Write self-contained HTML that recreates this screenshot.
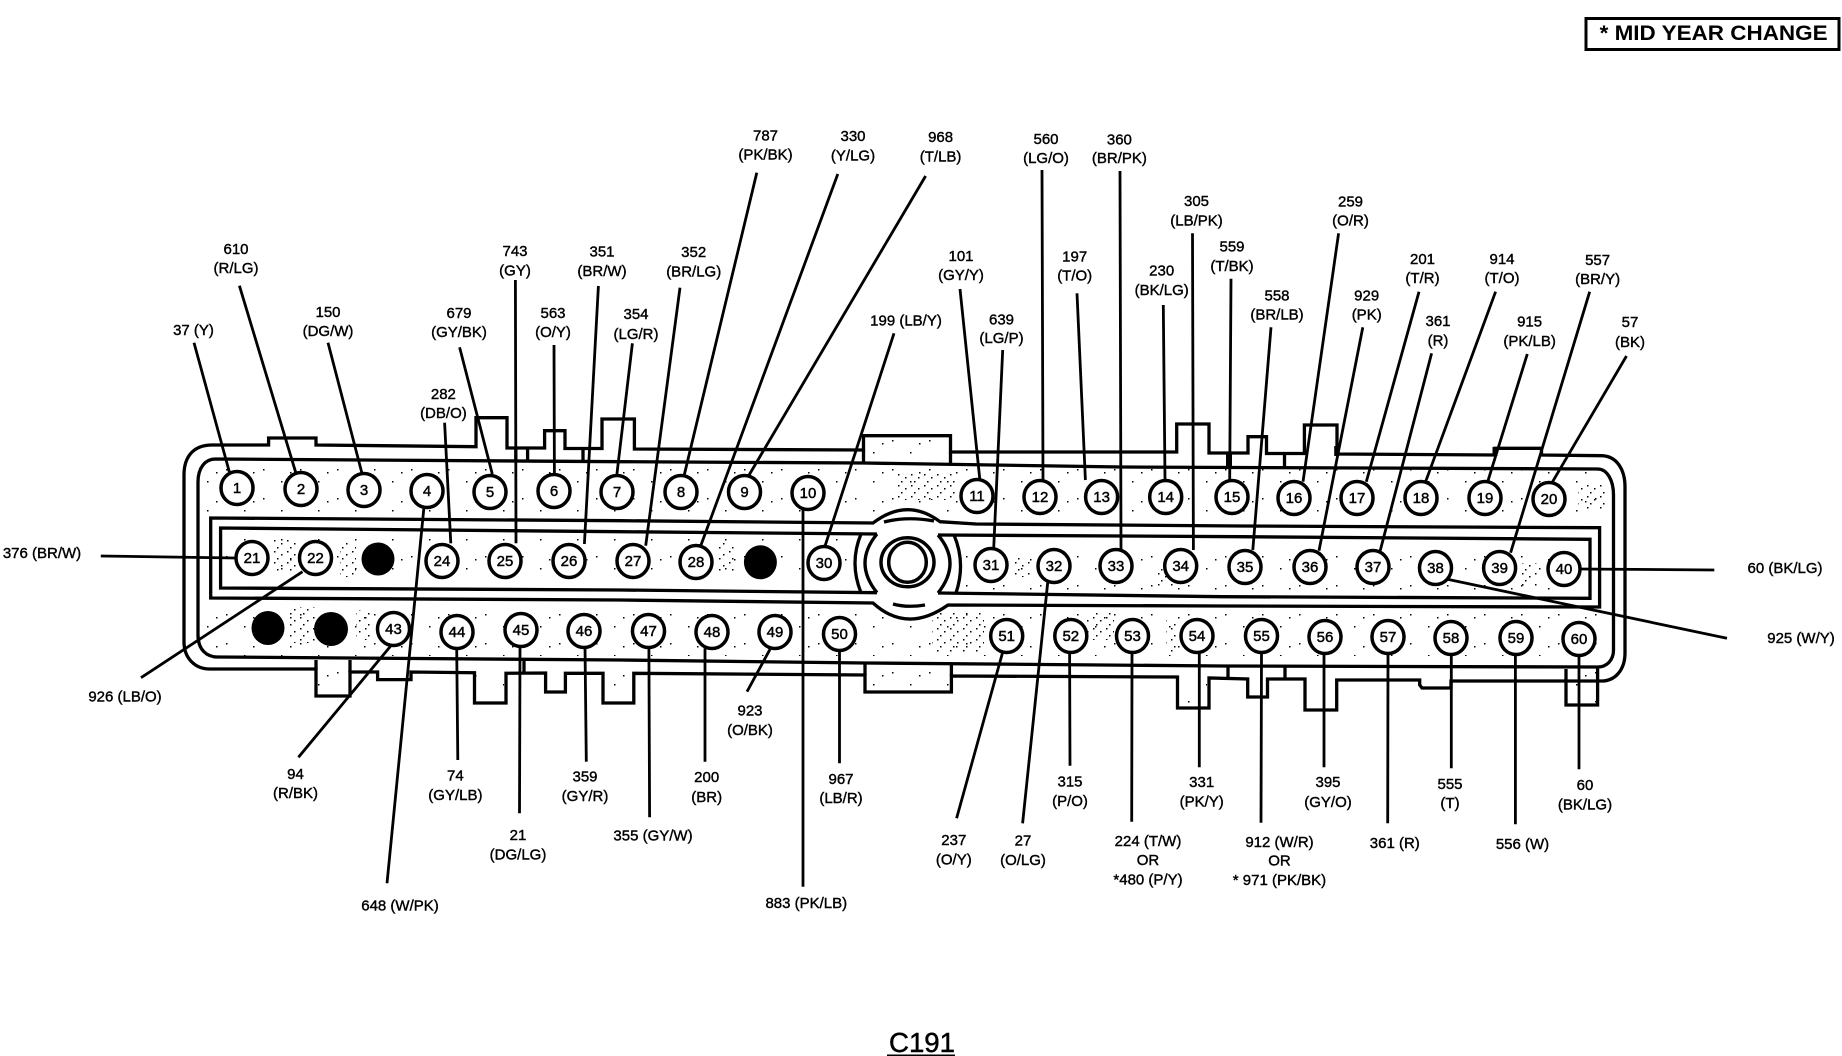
<!DOCTYPE html>
<html><head><meta charset="utf-8"><title>C191</title>
<style>
html,body{margin:0;padding:0;background:#fff;width:1842px;height:1056px;overflow:hidden}
svg{display:block}
text{font-family:"Liberation Sans",Arial,sans-serif;fill:#000}
.l text{font-size:15px;text-anchor:middle;stroke:#000;stroke-width:.4}
.p text{font-size:15px;text-anchor:middle;stroke:#000;stroke-width:.45}
.p ellipse{fill:#fff;stroke:#000;stroke-width:3.5}
.b{fill:none;stroke:#000;stroke-width:3.3}
.w{fill:none;stroke:#000;stroke-width:2.8}
</style></head><body>
<svg width="1842" height="1056" viewBox="0 0 1842 1056" xmlns="http://www.w3.org/2000/svg">
<defs>
<pattern id="sp" width="37" height="29" patternUnits="userSpaceOnUse"><rect x="4" y="5" width="1.5" height="1.5"/><rect x="22" y="17" width="1.5" height="1.5"/><rect x="31" y="8" width="1.5" height="1.5"/></pattern>
<pattern id="dn" width="13" height="11" patternUnits="userSpaceOnUse"><rect x="1" y="1" width="1.5" height="1.5"/><rect x="8" y="4" width="1.5" height="1.5"/><rect x="4" y="8" width="1.5" height="1.5"/></pattern>
</defs>
<!-- stipple -->
<rect x="205" y="465" width="1400" height="50" fill="url(#sp)"/>
<rect x="225" y="535" width="640" height="50" fill="url(#sp)"/>
<rect x="965" y="542" width="620" height="52" fill="url(#sp)"/>
<rect x="205" y="606" width="1400" height="50" fill="url(#sp)"/>
<g fill="url(#dn)">
<rect x="273" y="538" width="23" height="35"/><rect x="340" y="543" width="16" height="34"/><rect x="289" y="607" width="27" height="36"/><rect x="356" y="610" width="16" height="30"/>
<rect x="719" y="543" width="16" height="30"/><rect x="932" y="613" width="52" height="40"/><rect x="897" y="473" width="59" height="27"/><rect x="1015" y="557" width="16" height="20"/>
<rect x="1087" y="613" width="27" height="27"/><rect x="1154" y="567" width="20" height="20"/><rect x="1166" y="620" width="11" height="33"/><rect x="1522" y="563" width="16" height="24"/><rect x="1578" y="483" width="27" height="27"/>
</g>
<g fill="url(#sp)">
<rect x="318" y="672" width="30" height="22"/><rect x="867" y="665" width="82" height="25"/><rect x="867" y="438" width="80" height="23"/><rect x="1180" y="680" width="27" height="26"/><rect x="476" y="675" width="28" height="26"/><rect x="605" y="675" width="27" height="26"/><rect x="1568" y="671" width="28" height="32"/>
</g>
<!-- body -->
<path class="b" d="M184 475C184 455 195 445 212 445L268.6 445L268.6 438L316 438L316 445L476 446.7L476 417.7L507 417.7L507 448L544.6 448L544.6 430.7L565 430.7L565 448.5L602 448.5L602 419L634.4 419L634.4 449L863.5 450L863.5 435.7L950.5 435.7L950.5 452L1176.7 452L1176.7 424L1209 424L1209 453L1248 453L1248 436.7L1266.5 436.7L1266.5 453.5L1304.4 453.5L1304.4 425L1337 425L1337 454L1495 455L1495 448.3L1541.5 448.3L1541.5 455L1601.6 455.7C1617 456 1625 470 1625 487L1625 653C1625 670 1615 681 1601.6 681L1451 681L1451 688L1422 688L1419.7 685L1419.7 680L1336.7 680L1336.7 710L1305 710L1305 679L1267.5 679L1267.5 697L1247.7 697L1247.7 679L1209 678L1209 708L1177.5 708L1177.5 677L951.4 676L951.4 692L865 692L865 675L633.8 673.3L633.8 703L603 703L603 673.3L565.4 673.3L565.4 692L545.6 692L545.6 673L506 673.3L506 703L474.5 703L474.5 672.7L411 672L411 679.6L377.6 679.6L377.6 672L350 672L350 696L316 696L316 669L209.6 669C195 669 184 658 184 642Z"/>
<path class="b" d="M215.5 459C205 459 198 468 198 482L198 635C198 650 207 657 217.5 657L620 660L865 663L1222 666L1597.6 667C1607 667 1613.5 660 1613.5 650L1613.5 495C1613.5 480 1607 469 1597.6 469L1122 467L863 463L620 461.7Z"/>
<path class="b" d="M1566 681L1566 669M1566 681L1566 705L1597.6 705L1597.6 667M350 660L350 672M316 660L316 669M865 663L865 675M951.4 663L951.4 676M863.5 450L863.5 463M950.5 452L950.5 464M1228 666L1228 678M1285 667L1285 679M524 660L524 673M515.8 448L515.8 460M527.6 448L527.6 460M583 448L583 460M1284.5 455L1284.5 467"/>
<path d="M1229 453L1229 466" stroke="#000" stroke-width="6" fill="none"/>
<path d="M1336.7 446L1336.7 456M1495 447L1495 456" stroke="#000" stroke-width="5" fill="none"/>
<!-- slots -->
<path class="b" d="M210.7 518L620 520.7L873 523Q907 497 940 521.7L976 524L1240 526L1599.6 527.7L1599.6 607L1222 606L948 605Q907 634 873 603L620 600L210.7 598Z"/>
<path class="b" d="M877 534L620 531.7L220.6 528L220.6 588L620 590L877 592.7M938 535L1240 536.7L1590 539.3L1590 598.3L1222 596.7L938 593"/>
<path class="b" d="M877 534Q853 563 877 592.7M861 534Q849 563 861 592.7M938 535Q962 563 938 593M954 535Q966 563 956 593M884 522Q907 516 934 521M893 604Q907 608 925 605"/>
<ellipse cx="907.5" cy="562.3" rx="26.5" ry="24.5" class="b" style="stroke-width:3.5"/>
<ellipse cx="907.5" cy="562.3" rx="18.8" ry="20" class="b" style="stroke-width:3.5"/>
<!-- black dots -->
<ellipse cx="378" cy="559" rx="16.5" ry="16.5"/><ellipse cx="268" cy="628" rx="16.5" ry="17"/><ellipse cx="331" cy="629" rx="17" ry="17"/><ellipse cx="760.4" cy="562.3" rx="16.5" ry="17"/>
<!-- leaders -->
<path class="w" d="M194 342.7L229.3 471.7M239.4 285.7L295.8 472.7M328 342.7L361.8 472.7M459.6 347.3L492.3 474M444.6 422.7L450.8 543.3M515.4 280L516 543.3M554 345L554.4 474M598.4 286L584.4 544M632.4 343.3L616.8 475M680 287.7L645.7 545.7M756.8 172.7L684 476M837.8 174L701 545M925.6 176L748.5 476M894 333.3L824.8 546.7M960 289L979.8 479.3M1002.7 350L993.7 548.3M1042 170L1043 480M1120 171L1121 549.3M1077 293.3L1085.4 480M1163.3 305L1165 480M1192.5 233.3L1193.4 550M1231 278.7L1229.7 480M1271 327.3L1252.8 550M1338.6 233.3L1303 481.7M1362.8 327.3L1319 550.7M1419 291.7L1366.3 481.7M1431.6 353.3L1380.2 550.7M1495.6 291.7L1425.6 481.7M1527.3 354L1487.7 481.7M1589.7 291.7L1510.6 552.7M1626.5 356L1552 482.7"/>
<path class="w" d="M100.8 556L235 558M141 677.7L302.5 571.7M1714.3 570L1580 569M1727 638.3L1447.4 579.3"/>
<path class="w" d="M391.5 645L298.4 757.3M456.7 648L457.8 760M520 646.7L519.5 813.3M585 646.7L586.3 761.7M648.9 648.3L649.6 817.3M424 506.7L387 883.3M705 648.3L705 761.7M770 649.3L747 691.7M803 510L803 886.7M839.5 650.7L839.5 763.3M1002.8 651.7L956.6 818.3M1047.8 581.7L1022.6 823.3M1069.6 653.3L1070 765.7M1132 653.3L1131.7 821.7M1199.3 653.3L1199.3 767.3M1261.5 653.3L1261 822.7M1324 654L1324 767.3M1388 655L1387.7 823.3M1451.3 655L1451.3 768.3M1515.4 655L1515.4 824.3M1579 655.7L1579 769.3"/>
<!-- pins -->
<g class="p">
<ellipse cx="237" cy="488" rx="16" ry="16.5"/><text x="237" y="493">1</text>
<ellipse cx="301" cy="489" rx="16" ry="16.5"/><text x="301" y="494">2</text>
<ellipse cx="364" cy="490" rx="16" ry="16.5"/><text x="364" y="495">3</text>
<ellipse cx="427" cy="491" rx="16" ry="16.5"/><text x="427" y="496">4</text>
<ellipse cx="490" cy="492" rx="16" ry="16.5"/><text x="490" y="497">5</text>
<ellipse cx="554" cy="491" rx="16" ry="16.5"/><text x="554" y="496">6</text>
<ellipse cx="617" cy="492" rx="16" ry="16.5"/><text x="617" y="497">7</text>
<ellipse cx="681" cy="492" rx="16" ry="16.5"/><text x="681" y="497">8</text>
<ellipse cx="744.5" cy="492" rx="16" ry="16.5"/><text x="744.5" y="497">9</text>
<ellipse cx="808" cy="493" rx="16" ry="16.5"/><text x="808" y="498">10</text>
<ellipse cx="977" cy="496" rx="16" ry="16.5"/><text x="977" y="501">11</text>
<ellipse cx="1040" cy="497" rx="16" ry="16.5"/><text x="1040" y="502">12</text>
<ellipse cx="1101.6" cy="497" rx="16" ry="16.5"/><text x="1101.6" y="502">13</text>
<ellipse cx="1165.7" cy="497" rx="16" ry="16.5"/><text x="1165.7" y="502">14</text>
<ellipse cx="1232" cy="497" rx="16" ry="16.5"/><text x="1232" y="502">15</text>
<ellipse cx="1294" cy="498" rx="16" ry="16.5"/><text x="1294" y="503">16</text>
<ellipse cx="1357" cy="498" rx="16" ry="16.5"/><text x="1357" y="503">17</text>
<ellipse cx="1421" cy="498" rx="16" ry="16.5"/><text x="1421" y="503">18</text>
<ellipse cx="1485" cy="498" rx="16" ry="16.5"/><text x="1485" y="503">19</text>
<ellipse cx="1549" cy="499" rx="16" ry="16.5"/><text x="1549" y="504">20</text>
<ellipse cx="252" cy="558" rx="16" ry="16.5"/><text x="252" y="563">21</text>
<ellipse cx="315.5" cy="558" rx="16" ry="16.5"/><text x="315.5" y="563">22</text>
<ellipse cx="442" cy="561" rx="16" ry="16.5"/><text x="442" y="566">24</text>
<ellipse cx="505" cy="561" rx="16" ry="16.5"/><text x="505" y="566">25</text>
<ellipse cx="569" cy="561" rx="16" ry="16.5"/><text x="569" y="566">26</text>
<ellipse cx="633" cy="561" rx="16" ry="16.5"/><text x="633" y="566">27</text>
<ellipse cx="696" cy="562" rx="16" ry="16.5"/><text x="696" y="567">28</text>
<ellipse cx="824" cy="563" rx="16" ry="16.5"/><text x="824" y="568">30</text>
<ellipse cx="991" cy="565" rx="16" ry="16.5"/><text x="991" y="570">31</text>
<ellipse cx="1054" cy="566" rx="16" ry="16.5"/><text x="1054" y="571">32</text>
<ellipse cx="1116" cy="566" rx="16" ry="16.5"/><text x="1116" y="571">33</text>
<ellipse cx="1180.7" cy="566" rx="16" ry="16.5"/><text x="1180.7" y="571">34</text>
<ellipse cx="1245" cy="567" rx="16" ry="16.5"/><text x="1245" y="572">35</text>
<ellipse cx="1310" cy="567" rx="16" ry="16.5"/><text x="1310" y="572">36</text>
<ellipse cx="1373" cy="567" rx="16" ry="16.5"/><text x="1373" y="572">37</text>
<ellipse cx="1435.5" cy="568" rx="16" ry="16.5"/><text x="1435.5" y="573">38</text>
<ellipse cx="1499.6" cy="568" rx="16" ry="16.5"/><text x="1499.6" y="573">39</text>
<ellipse cx="1564" cy="569" rx="16" ry="16.5"/><text x="1564" y="574">40</text>
<ellipse cx="393.5" cy="629" rx="16" ry="16.5"/><text x="393.5" y="634">43</text>
<ellipse cx="457" cy="632" rx="16" ry="16.5"/><text x="457" y="637">44</text>
<ellipse cx="521" cy="630" rx="16" ry="16.5"/><text x="521" y="635">45</text>
<ellipse cx="584" cy="631" rx="16" ry="16.5"/><text x="584" y="636">46</text>
<ellipse cx="648.5" cy="631" rx="16" ry="16.5"/><text x="648.5" y="636">47</text>
<ellipse cx="712" cy="632" rx="16" ry="16.5"/><text x="712" y="637">48</text>
<ellipse cx="775" cy="632" rx="16" ry="16.5"/><text x="775" y="637">49</text>
<ellipse cx="839.5" cy="634" rx="16" ry="16.5"/><text x="839.5" y="639">50</text>
<ellipse cx="1006.7" cy="636" rx="16" ry="16.5"/><text x="1006.7" y="641">51</text>
<ellipse cx="1070.8" cy="636" rx="16" ry="16.5"/><text x="1070.8" y="641">52</text>
<ellipse cx="1132.5" cy="636" rx="16" ry="16.5"/><text x="1132.5" y="641">53</text>
<ellipse cx="1197" cy="636" rx="16" ry="16.5"/><text x="1197" y="641">54</text>
<ellipse cx="1261.5" cy="636" rx="16" ry="16.5"/><text x="1261.5" y="641">55</text>
<ellipse cx="1325" cy="637" rx="16" ry="16.5"/><text x="1325" y="642">56</text>
<ellipse cx="1388" cy="637" rx="16" ry="16.5"/><text x="1388" y="642">57</text>
<ellipse cx="1451" cy="638" rx="16" ry="16.5"/><text x="1451" y="643">58</text>
<ellipse cx="1516" cy="638" rx="16" ry="16.5"/><text x="1516" y="643">59</text>
<ellipse cx="1579" cy="639" rx="16" ry="16.5"/><text x="1579" y="644">60</text>
</g>
<!-- labels -->
<g class="l">
<text x="193.5" y="335">37 (Y)</text>
<text x="236" y="253.8">610</text><text x="236" y="273.2">(R/LG)</text>
<text x="328" y="317.2">150</text><text x="328" y="336.2">(DG/W)</text>
<text x="459" y="317.8">679</text><text x="459" y="337.2">(GY/BK)</text>
<text x="443.4" y="398.8">282</text><text x="443.4" y="418.2">(DB/O)</text>
<text x="515" y="256.2">743</text><text x="515" y="275.5">(GY)</text>
<text x="553" y="318.2">563</text><text x="553" y="337.2">(O/Y)</text>
<text x="602" y="256.5">351</text><text x="602" y="276.2">(BR/W)</text>
<text x="636" y="318.8">354</text><text x="636" y="338.8">(LG/R)</text>
<text x="693.7" y="257.2">352</text><text x="693.7" y="276.5">(BR/LG)</text>
<text x="765.5" y="140.5">787</text><text x="765.5" y="159.5">(PK/BK)</text>
<text x="853" y="141.2">330</text><text x="853" y="160.5">(Y/LG)</text>
<text x="940.6" y="142.2">968</text><text x="940.6" y="161.5">(T/LB)</text>
<text x="906" y="325.5">199 (LB/Y)</text>
<text x="961" y="261.2">101</text><text x="961" y="279.8">(GY/Y)</text>
<text x="1001.5" y="324.5">639</text><text x="1001.5" y="342.8">(LG/P)</text>
<text x="1046" y="143.8">560</text><text x="1046" y="162.8">(LG/O)</text>
<text x="1119.4" y="144.5">360</text><text x="1119.4" y="163.2">(BR/PK)</text>
<text x="1074.7" y="261.5">197</text><text x="1074.7" y="280.5">(T/O)</text>
<text x="1161.7" y="275.5">230</text><text x="1161.7" y="294.8">(BK/LG)</text>
<text x="1196.5" y="206.2">305</text><text x="1196.5" y="225.5">(LB/PK)</text>
<text x="1232" y="251.5">559</text><text x="1232" y="270.8">(T/BK)</text>
<text x="1277" y="300.5">558</text><text x="1277" y="319.5">(BR/LB)</text>
<text x="1350.5" y="206.5">259</text><text x="1350.5" y="225.5">(O/R)</text>
<text x="1366.7" y="300.5">929</text><text x="1366.7" y="319.5">(PK)</text>
<text x="1422.5" y="263.8">201</text><text x="1422.5" y="282.8">(T/R)</text>
<text x="1438" y="326.2">361</text><text x="1438" y="345.5">(R)</text>
<text x="1502" y="263.8">914</text><text x="1502" y="282.8">(T/O)</text>
<text x="1529.6" y="326.5">915</text><text x="1529.6" y="346.2">(PK/LB)</text>
<text x="1597.6" y="264.8">557</text><text x="1597.6" y="283.8">(BR/Y)</text>
<text x="1630" y="327.2">57</text><text x="1630" y="347.2">(BK)</text>
<text x="42" y="558.2">376 (BR/W)</text>
<text x="125" y="701.5">926 (LB/O)</text>
<text x="1785" y="573.2">60 (BK/LG)</text>
<text x="1801" y="643.2">925 (W/Y)</text>
<text x="295.5" y="778.8">94</text><text x="295.5" y="797.8">(R/BK)</text>
<text x="455.4" y="780.5">74</text><text x="455.4" y="799.8">(GY/LB)</text>
<text x="518" y="839.8">21</text><text x="518" y="859.5">(DG/LG)</text>
<text x="585" y="781.5">359</text><text x="585" y="801.2">(GY/R)</text>
<text x="653" y="840.5">355 (GY/W)</text>
<text x="400" y="910.5">648 (W/PK)</text>
<text x="706.7" y="782.2">200</text><text x="706.7" y="802.2">(BR)</text>
<text x="750" y="715.5">923</text><text x="750" y="734.8">(O/BK)</text>
<text x="806.3" y="908.2">883 (PK/LB)</text>
<text x="841" y="783.8">967</text><text x="841" y="803.2">(LB/R)</text>
<text x="953.8" y="844.8">237</text><text x="953.8" y="864.5">(O/Y)</text>
<text x="1023" y="845.5">27</text><text x="1023" y="864.8">(O/LG)</text>
<text x="1070" y="786.5">315</text><text x="1070" y="806.2">(P/O)</text>
<text x="1148" y="846.2">224 (T/W)</text><text x="1148" y="864.8">OR</text><text x="1148" y="884.5">*480 (P/Y)</text>
<text x="1201.7" y="787.2">331</text><text x="1201.7" y="806.5">(PK/Y)</text>
<text x="1279.5" y="847.2">912 (W/R)</text><text x="1279.5" y="865.5">OR</text><text x="1279.5" y="884.8">* 971 (PK/BK)</text>
<text x="1328" y="787.2">395</text><text x="1328" y="807.2">(GY/O)</text>
<text x="1394.8" y="848.2">361 (R)</text>
<text x="1450" y="788.8">555</text><text x="1450" y="808.2">(T)</text>
<text x="1522.5" y="848.8">556 (W)</text>
<text x="1585" y="789.8">60</text><text x="1585" y="809.5">(BK/LG)</text>
</g>
<!-- legend -->
<rect x="1586" y="18.5" width="253" height="31" fill="none" stroke="#000" stroke-width="3"/>
<text x="1599.6" y="40" font-size="21" font-weight="bold" textLength="228" lengthAdjust="spacingAndGlyphs">* MID YEAR CHANGE</text>
<!-- title -->
<text x="889" y="1052" font-size="28" stroke="#000" stroke-width=".5" textLength="66" lengthAdjust="spacingAndGlyphs">C191</text>
<rect x="887" y="1054.5" width="68" height="2"/>
</svg>
</body></html>
